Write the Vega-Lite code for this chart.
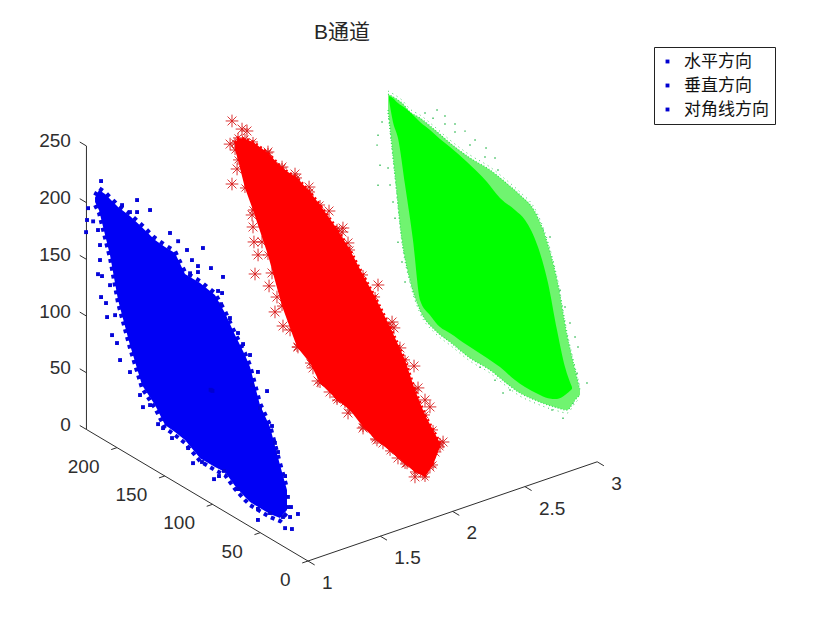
{
"$schema":"https://vega.github.io/schema/vega-lite/v6.json",
"width":840,"height":630,"padding":0,"autosize":{"type":"none"},
"background":"white",
"title":{"text":"B通道","anchor":"start","frame":"group","dx":314,"dy":43,"offset":0,"font":"Liberation Sans, Noto Sans CJK SC","fontSize":21,"fontWeight":"normal","color":"#262626"},
"config":{"view":{"stroke":null}},
"datasets":{
"axisLines":[
{"x1":1,"y1":0,"z1":0,"x2":3,"y2":0,"z2":0},
{"x1":1,"y1":0,"z1":0,"x2":1,"y2":232,"z2":0},
{"x1":1,"y1":232,"z1":0,"x2":1,"y2":232,"z2":250},
{"x1":1,"y1":0,"z1":0,"x2":1,"y2":-7,"z2":0},
{"x1":1.5,"y1":0,"z1":0,"x2":1.5,"y2":-7,"z2":0},
{"x1":2,"y1":0,"z1":0,"x2":2,"y2":-7,"z2":0},
{"x1":2.5,"y1":0,"z1":0,"x2":2.5,"y2":-7,"z2":0},
{"x1":3,"y1":0,"z1":0,"x2":3,"y2":-7,"z2":0},
{"x1":1,"y1":0,"z1":0,"x2":0.96,"y2":0,"z2":0},
{"x1":1,"y1":50,"z1":0,"x2":0.96,"y2":50,"z2":0},
{"x1":1,"y1":100,"z1":0,"x2":0.96,"y2":100,"z2":0},
{"x1":1,"y1":150,"z1":0,"x2":0.96,"y2":150,"z2":0},
{"x1":1,"y1":200,"z1":0,"x2":0.96,"y2":200,"z2":0},
{"x1":1,"y1":232,"z1":0,"x2":1,"y2":239,"z2":0},
{"x1":1,"y1":232,"z1":50,"x2":1,"y2":239,"z2":50},
{"x1":1,"y1":232,"z1":100,"x2":1,"y2":239,"z2":100},
{"x1":1,"y1":232,"z1":150,"x2":1,"y2":239,"z2":150},
{"x1":1,"y1":232,"z1":200,"x2":1,"y2":239,"z2":200},
{"x1":1,"y1":232,"z1":250,"x2":1,"y2":239,"z2":250}
],
"xTicks":[{"x":1,"y":0,"z":0,"t":"1"},{"x":1.5,"y":0,"z":0,"t":"1.5"},{"x":2,"y":0,"z":0,"t":"2"},{"x":2.5,"y":0,"z":0,"t":"2.5"},{"x":3,"y":0,"z":0,"t":"3"}],
"yTicks":[{"x":1,"y":0,"z":0,"t":"0"},{"x":1,"y":50,"z":0,"t":"50"},{"x":1,"y":100,"z":0,"t":"100"},{"x":1,"y":150,"z":0,"t":"150"},{"x":1,"y":200,"z":0,"t":"200"}],
"zTicks":[{"x":1,"y":232,"z":0,"t":"0"},{"x":1,"y":232,"z":50,"t":"50"},{"x":1,"y":232,"z":100,"t":"100"},{"x":1,"y":232,"z":150,"t":"150"},{"x":1,"y":232,"z":200,"t":"200"},{"x":1,"y":232,"z":250,"t":"250"}],
"legendRows":[{"x":1,"y":100,"z":100,"方向":"水平方向"},{"x":1,"y":101,"z":100,"方向":"垂直方向"},{"x":1,"y":102,"z":100,"方向":"对角线方向"}],
"blueBand":[
{"x":1,"y":223,"lo":205,"hi":209},{"x":1,"y":218.8,"lo":200,"hi":217.7},{"x":1,"y":212.5,"lo":181.2,"hi":217.3},{"x":1,"y":207.3,"lo":166,"hi":215.5},{"x":1,"y":198.9,"lo":130.6,"hi":212.7},{"x":1,"y":186.4,"lo":97.2,"hi":211},{"x":1,"y":173.8,"lo":68.2,"hi":207.5},{"x":1,"y":160.2,"lo":57.4,"hi":203},{"x":1,"y":149.7,"lo":45,"hi":202},{"x":1,"y":139.3,"lo":44,"hi":202},{"x":1,"y":128.8,"lo":42.2,"hi":188.7},{"x":1,"y":113,"lo":34.2,"hi":188.6},{"x":1,"y":97.4,"lo":34.1,"hi":185.8},{"x":1,"y":86.9,"lo":35,"hi":175.2},{"x":1,"y":76.4,"lo":27.9,"hi":161},{"x":1,"y":66,"lo":23.4,"hi":148.6},{"x":1,"y":60.7,"lo":21.6,"hi":140.7},{"x":1,"y":50.3,"lo":21.5,"hi":112.4},{"x":1,"y":39.8,"lo":21.5,"hi":98.3},{"x":1,"y":29.3,"lo":23.2,"hi":69.9},{"x":1,"y":22,"lo":34,"hi":51.6}
],
"bluePts":[
{"x":1,"y":216.7,"z":226.7},{"x":1,"y":230.3,"z":196},{"x":1,"y":231.4,"z":185},{"x":1,"y":225,"z":187},{"x":1,"y":232.4,"z":173.8},{"x":1,"y":194.7,"z":216.5},{"x":1,"y":179,"z":228.8},{"x":1,"y":165.4,"z":226.8},{"x":1,"y":179,"z":218.2},{"x":1,"y":186.4,"z":214.5},{"x":1,"y":144.5,"z":217},{"x":1,"y":136,"z":214},{"x":1,"y":126.7,"z":210.9},{"x":1,"y":110,"z":221},{"x":1,"y":121.5,"z":204.6},{"x":1,"y":115.2,"z":202.5},{"x":1,"y":101.6,"z":207.5},{"x":1,"y":89,"z":206},{"x":1,"y":123.5,"z":192},{"x":1,"y":115.2,"z":197.2},{"x":1,"y":94.2,"z":191},{"x":1,"y":90,"z":191.3},{"x":1,"y":91,"z":181},{"x":1,"y":219.9,"z":181.9},{"x":1,"y":217.8,"z":169.7},{"x":1,"y":217.8,"z":156.5},{"x":1,"y":219.9,"z":143},{"x":1,"y":215.7,"z":143.4},{"x":1,"y":207.3,"z":139.6},{"x":1,"y":216.7,"z":124.4},{"x":1,"y":211.5,"z":121.7},{"x":1,"y":210.4,"z":109.9},{"x":1,"y":205.2,"z":96.6},{"x":1,"y":200,"z":92.2},{"x":1,"y":202,"z":115.8},{"x":1,"y":172.8,"z":49.3},{"x":1,"y":157,"z":42.2},{"x":1,"y":151.8,"z":41.3},{"x":1,"y":142.4,"z":37.2},{"x":1,"y":125.6,"z":36.8},{"x":1,"y":120.4,"z":26.1},{"x":1,"y":111,"z":31.8},{"x":1,"y":98.4,"z":23},{"x":1,"y":93.2,"z":28.3},{"x":1,"y":88,"z":35.4},{"x":1,"y":73.3,"z":26.8},{"x":1,"y":52.4,"z":10},{"x":1,"y":24,"z":17},{"x":1,"y":16.8,"z":19.8},{"x":1,"y":10.5,"z":36.2},{"x":1,"y":18.8,"z":29.4},{"x":1,"y":21,"z":37.1},{"x":1,"y":17.8,"z":38.7},{"x":1,"y":26.2,"z":25.7},{"x":1,"y":39.8,"z":22.4},{"x":1,"y":52.4,"z":19.7},{"x":1,"y":68,"z":157.3},{"x":1,"y":52.4,"z":140.5},{"x":1,"y":42.9,"z":128.4},{"x":1,"y":50.3,"z":109.7},{"x":1,"y":37.7,"z":100.2},{"x":1,"y":34.6,"z":86.8},{"x":1,"y":31.4,"z":80.4},{"x":1,"y":24,"z":62.9},{"x":1,"y":21,"z":46},{"x":1,"y":196.8,"z":78.8},{"x":1,"y":186.4,"z":73.4},{"x":1,"y":175.9,"z":58.4},{"x":1,"y":165.4,"z":54.8},{"x":1,"y":81.7,"z":173.4},{"x":1,"y":73.3,"z":164.4},{"x":1,"y":60.7,"z":151.3},{"x":1,"y":58.6,"z":125.9}
],
"redBand":[
{"x":2,"y":227.8,"lo":204.8,"hi":211},{"x":2,"y":224.7,"lo":197.6,"hi":217},{"x":2,"y":217.4,"lo":176.5,"hi":219.7},{"x":2,"y":209,"lo":161.3,"hi":221.3},{"x":2,"y":193.3,"lo":129.5,"hi":219.4},{"x":2,"y":178.6,"lo":91.8,"hi":213.5},{"x":2,"y":162.9,"lo":63.5,"hi":212.6},{"x":2,"y":149.3,"lo":56.2,"hi":207},{"x":2,"y":138.8,"lo":43.8,"hi":200.8},{"x":2,"y":121,"lo":37.7,"hi":188.6},{"x":2,"y":107.4,"lo":35.7,"hi":176.8},{"x":2,"y":93.8,"lo":27.5,"hi":161.6},{"x":2,"y":81.2,"lo":23.3,"hi":148.5},{"x":2,"y":65.5,"lo":20.6,"hi":129.9},{"x":2,"y":49.8,"lo":16.9,"hi":108.7},{"x":2,"y":39.4,"lo":15.1,"hi":87.4},{"x":2,"y":28.9,"lo":15.9,"hi":70.6},{"x":2,"y":20.5,"lo":30.7,"hi":61.6},{"x":2,"y":13.2,"lo":50.3,"hi":53.8}
],
"redPts":[
{"x":2,"y":231,"z":228.8},{"x":2,"y":220.5,"z":226.9},{"x":2,"y":215.3,"z":227.8},{"x":2,"y":233,"z":207.4},{"x":2,"y":231,"z":173.2},{"x":2,"y":193.3,"z":220.3},{"x":2,"y":178.6,"z":214.4},{"x":2,"y":165,"z":215},{"x":2,"y":150.3,"z":210.9},{"x":2,"y":129.4,"z":200.2},{"x":2,"y":114.8,"z":192.5},{"x":2,"y":115.8,"z":188.5},{"x":2,"y":109.5,"z":182},{"x":2,"y":225.7,"z":189.1},{"x":2,"y":210,"z":156.4},{"x":2,"y":209,"z":146.3},{"x":2,"y":208,"z":133.6},{"x":2,"y":203.7,"z":124.3},{"x":2,"y":206.9,"z":105.9},{"x":2,"y":192.2,"z":102.7},{"x":2,"y":189.1,"z":115.7},{"x":2,"y":199.6,"z":137.8},{"x":2,"y":78.1,"z":160.6},{"x":2,"y":63.4,"z":135.3},{"x":2,"y":61.4,"z":131.1},{"x":2,"y":55.1,"z":116.6},{"x":2,"y":40.4,"z":108},{"x":2,"y":36.2,"z":90.8},{"x":2,"y":23.7,"z":80.3},{"x":2,"y":28.9,"z":83.8},{"x":2,"y":10,"z":56.2},{"x":2,"y":18.4,"z":43.2},{"x":2,"y":23.7,"z":27.3},{"x":2,"y":39.4,"z":10.7},{"x":2,"y":31,"z":18.4},{"x":2,"y":47.7,"z":18.9},{"x":2,"y":57.2,"z":18.5},{"x":2,"y":79.2,"z":23.4},{"x":2,"y":72.9,"z":23.9},{"x":2,"y":93.8,"z":26.6},{"x":2,"y":109.5,"z":32},{"x":2,"y":121,"z":40.4},{"x":2,"y":128.4,"z":41.1},{"x":2,"y":141,"z":44.5},{"x":2,"y":161.9,"z":64},{"x":2,"y":177.6,"z":74.7},{"x":2,"y":186,"z":82.9},{"x":2,"y":183.9,"z":97.1},{"x":2,"y":112.7,"z":40.1},{"x":2,"y":146.2,"z":53.4},{"x":2,"y":170.2,"z":74.9}
],
"greenOuter":[
{"x":3,"y":219,"lo":200.7,"hi":214.8},{"x":3,"y":211.7,"lo":146.9,"hi":214.9},{"x":3,"y":204.4,"lo":93.3,"hi":214.1},{"x":3,"y":196,"lo":62.2,"hi":210.4},{"x":3,"y":185.5,"lo":41,"hi":210.4},{"x":3,"y":169.8,"lo":31.2,"hi":207.6},{"x":3,"y":154.1,"lo":28.5,"hi":204},{"x":3,"y":133.2,"lo":24.9,"hi":201.3},{"x":3,"y":112.3,"lo":24.8,"hi":201.2},{"x":3,"y":96.5,"lo":22,"hi":198.5},{"x":3,"y":80.8,"lo":20.2,"hi":194.8},{"x":3,"y":65.1,"lo":21.9,"hi":187.7},{"x":3,"y":51.5,"lo":24.3,"hi":165.4},{"x":3,"y":41,"lo":26.9,"hi":135.4},{"x":3,"y":31.6,"lo":29.8,"hi":96},{"x":3,"y":23.2,"lo":42.9,"hi":69.3},{"x":3,"y":18,"lo":49.8,"hi":54.2}
],
"greenCore":[
{"x":3,"y":218,"lo":210,"hi":213.5},{"x":3,"y":213.8,"lo":192.6,"hi":213.8},{"x":3,"y":208.6,"lo":181.2,"hi":212},{"x":3,"y":201.2,"lo":143.4,"hi":211.3},{"x":3,"y":192.9,"lo":99,"hi":209.3},{"x":3,"y":185.5,"lo":49.8,"hi":206.8},{"x":3,"y":175,"lo":41.8,"hi":205},{"x":3,"y":164.6,"lo":36.5,"hi":202.3},{"x":3,"y":154.1,"lo":36.4,"hi":200.5},{"x":3,"y":136.3,"lo":34.8,"hi":196.2},{"x":3,"y":115.4,"lo":33.8,"hi":189},{"x":3,"y":101.8,"lo":32.6,"hi":181.7},{"x":3,"y":86.1,"lo":29,"hi":179},{"x":3,"y":75.6,"lo":28.1,"hi":175.4},{"x":3,"y":62,"lo":28.8,"hi":158.4},{"x":3,"y":51.5,"lo":30.4,"hi":131.9},{"x":3,"y":42.1,"lo":34.3,"hi":95.2},{"x":3,"y":33.7,"lo":42,"hi":66.7},{"x":3,"y":26.4,"lo":51,"hi":52.7}
],
"greenPts":[
{"x":3,"y":167.7,"z":226.3},{"x":3,"y":159.4,"z":225.2},{"x":3,"y":148.9,"z":223.4},{"x":3,"y":138.4,"z":222.4},{"x":3,"y":127.9,"z":219.8},{"x":3,"y":116.4,"z":218.5},{"x":3,"y":107,"z":214.3},{"x":3,"y":180.3,"z":217.4},{"x":3,"y":171.9,"z":217.1},{"x":3,"y":159.4,"z":218.1},{"x":3,"y":148.9,"z":216.4},{"x":3,"y":133.2,"z":212.7},{"x":3,"y":117.5,"z":210},{"x":3,"y":103.9,"z":205.3},{"x":3,"y":225.3,"z":186.9},{"x":3,"y":229.5,"z":173.3},{"x":3,"y":230.5,"z":164},{"x":3,"y":227.4,"z":147.9},{"x":3,"y":229.5,"z":129.2},{"x":3,"y":219,"z":149.5},{"x":3,"y":216.9,"z":135.6},{"x":3,"y":213.8,"z":122.1},{"x":3,"y":211.7,"z":109},{"x":3,"y":208.6,"z":89.4},{"x":3,"y":204.4,"z":73.9},{"x":3,"y":201.2,"z":57.9},{"x":3,"y":49.4,"z":173.5},{"x":3,"y":46.3,"z":139.8},{"x":3,"y":38.9,"z":131.9},{"x":3,"y":33.7,"z":119.6},{"x":3,"y":28.5,"z":108.1},{"x":3,"y":23.2,"z":98.4},{"x":3,"y":20.1,"z":91.1},{"x":3,"y":21.1,"z":67.6},{"x":3,"y":10.7,"z":64.1},{"x":3,"y":20.1,"z":53.2},{"x":3,"y":25.3,"z":39.2},{"x":3,"y":35.8,"z":20.6},{"x":3,"y":47.3,"z":22},{"x":3,"y":56.7,"z":176},{"x":3,"y":62,"z":179.6},{"x":3,"y":98.6,"z":11.3},{"x":3,"y":107,"z":18.5},{"x":3,"y":122.7,"z":22.1},{"x":3,"y":133.2,"z":25.8},{"x":3,"y":143.6,"z":28.4},{"x":3,"y":91.3,"z":17.6}
]
},
"encoding":{
"x":{"field":"sx","type":"quantitative","axis":null,"scale":{"domain":[0,840],"nice":false,"zero":false}},
"y":{"field":"sy","type":"quantitative","axis":null,"scale":{"domain":[630,0],"nice":false,"zero":false}}
},
"layer":[
{"data":{"name":"axisLines"},
"transform":[
{"calculate":"308+(datum.x1-1)*144.6-0.955*datum.y1","as":"sx"},
{"calculate":"561-(datum.x1-1)*49.6-0.567*datum.y1-1.134*datum.z1","as":"sy"},
{"calculate":"308+(datum.x2-1)*144.6-0.955*datum.y2","as":"ex"},
{"calculate":"561-(datum.x2-1)*49.6-0.567*datum.y2-1.134*datum.z2","as":"ey"}],
"mark":{"type":"rule","color":"#2e2e2e","strokeWidth":1},
"encoding":{"x2":{"field":"ex"},"y2":{"field":"ey"}}},
{"data":{"name":"xTicks"},
"transform":[{"calculate":"308+(datum.x-1)*144.6-0.955*datum.y","as":"sx"},{"calculate":"561-(datum.x-1)*49.6-0.567*datum.y-1.134*datum.z","as":"sy"}],
"mark":{"type":"text","font":"Liberation Sans","fontSize":19,"color":"#2e2e2e","align":"left","baseline":"middle","dx":14,"dy":22},
"encoding":{"text":{"field":"t"}}},
{"data":{"name":"yTicks"},
"transform":[{"calculate":"308+(datum.x-1)*144.6-0.955*datum.y","as":"sx"},{"calculate":"561-(datum.x-1)*49.6-0.567*datum.y-1.134*datum.z","as":"sy"}],
"mark":{"type":"text","font":"Liberation Sans","fontSize":19,"color":"#2e2e2e","align":"right","baseline":"middle","dx":-17.5,"dy":19},
"encoding":{"text":{"field":"t"}}},
{"data":{"name":"zTicks"},
"transform":[{"calculate":"308+(datum.x-1)*144.6-0.955*datum.y","as":"sx"},{"calculate":"561-(datum.x-1)*49.6-0.567*datum.y-1.134*datum.z","as":"sy"}],
"mark":{"type":"text","font":"Liberation Sans","fontSize":19,"color":"#2e2e2e","align":"right","baseline":"middle","dx":-15.5,"dy":-4.5},
"encoding":{"text":{"field":"t"}}},
{"data":{"name":"blueBand"},
"transform":[{"calculate":"308+(datum.x-1)*144.6-0.955*datum.y","as":"sx"},{"calculate":"561-(datum.x-1)*49.6-0.567*datum.y-1.134*datum.hi","as":"sy"}],
"mark":{"type":"line","color":"#0505e0","strokeWidth":4,"strokeDash":[4,5],"yOffset":-2}},
{"data":{"name":"blueBand"},
"transform":[{"calculate":"308+(datum.x-1)*144.6-0.955*datum.y","as":"sx"},{"calculate":"561-(datum.x-1)*49.6-0.567*datum.y-1.134*datum.lo","as":"sy"}],
"mark":{"type":"line","color":"#0505e0","strokeWidth":4,"strokeDash":[4,4],"yOffset":3}},
{"data":{"name":"blueBand"},
"transform":[{"calculate":"308+(datum.x-1)*144.6-0.955*datum.y","as":"sx"},{"calculate":"561-(datum.x-1)*49.6-0.567*datum.y-1.134*datum.hi","as":"sy"},{"calculate":"561-(datum.x-1)*49.6-0.567*datum.y-1.134*datum.lo","as":"sy2"}],
"mark":{"type":"area","color":"#0000f5","opacity":1},
"encoding":{"y2":{"field":"sy2"}}},
{"data":{"name":"bluePts"},
"transform":[{"calculate":"308+(datum.x-1)*144.6-0.955*datum.y","as":"sx"},{"calculate":"561-(datum.x-1)*49.6-0.567*datum.y-1.134*datum.z","as":"sy"}],
"mark":{"type":"point","shape":"square","filled":true,"size":15,"color":"#0505d8","opacity":1}},
{"data":{"name":"legendRows"},
"transform":[{"calculate":"308+(datum.x-1)*144.6-0.955*datum.y","as":"sx"},{"calculate":"561-(datum.x-1)*49.6-0.567*datum.y-1.134*datum.z","as":"sy"}],
"mark":{"type":"point","shape":"square","filled":true,"size":15,"opacity":1},
"encoding":{"color":{"field":"方向","type":"nominal","scale":{"domain":["水平方向","垂直方向","对角线方向"],"range":["#0000d0","#0000d0","#0000d0"]},
"legend":{"title":null,"orient":"none","legendX":654,"legendY":47,"padding":6,"symbolType":"square","symbolSize":15,"symbolOpacity":1,"labelFont":"Noto Sans CJK SC","labelFontSize":17,"labelColor":"#111111","labelOffset":8,"rowPadding":6,"labelLimit":120,"strokeColor":"#222222","fillColor":"white","symbolOffset":-1}}}},
{"data":{"name":"redPts"},
"transform":[{"calculate":"308+(datum.x-1)*144.6-0.955*datum.y","as":"sx"},{"calculate":"561-(datum.x-1)*49.6-0.567*datum.y-1.134*datum.z","as":"sy"}],
"mark":{"type":"point","shape":"M-1,0L1,0M0,-1L0,1M-0.7,-0.7L0.7,0.7M-0.7,0.7L0.7,-0.7","filled":false,"size":160,"stroke":"#d81c1c","strokeWidth":0.9,"opacity":1}},
{"data":{"name":"redBand"},
"transform":[{"calculate":"308+(datum.x-1)*144.6-0.955*datum.y","as":"sx"},{"calculate":"561-(datum.x-1)*49.6-0.567*datum.y-1.134*datum.hi","as":"sy"}],
"mark":{"type":"point","shape":"M-1,0L1,0M0,-1L0,1M-0.7,-0.7L0.7,0.7M-0.7,0.7L0.7,-0.7","filled":false,"size":100,"stroke":"#d81c1c","strokeWidth":0.9,"opacity":1}},
{"data":{"name":"redBand"},
"transform":[{"calculate":"308+(datum.x-1)*144.6-0.955*datum.y","as":"sx"},{"calculate":"561-(datum.x-1)*49.6-0.567*datum.y-1.134*datum.lo","as":"sy"}],
"mark":{"type":"point","shape":"M-1,0L1,0M0,-1L0,1M-0.7,-0.7L0.7,0.7M-0.7,0.7L0.7,-0.7","filled":false,"size":100,"stroke":"#d81c1c","strokeWidth":0.9,"opacity":1}},
{"data":{"name":"redBand"},
"transform":[{"calculate":"308+(datum.x-1)*144.6-0.955*datum.y","as":"sx"},{"calculate":"561-(datum.x-1)*49.6-0.567*datum.y-1.134*datum.hi","as":"sy"}],
"mark":{"type":"line","color":"#ff0000","strokeWidth":3,"strokeDash":[2,3]}},
{"data":{"name":"redBand"},
"transform":[{"calculate":"308+(datum.x-1)*144.6-0.955*datum.y","as":"sx"},{"calculate":"561-(datum.x-1)*49.6-0.567*datum.y-1.134*datum.hi","as":"sy"},{"calculate":"561-(datum.x-1)*49.6-0.567*datum.y-1.134*datum.lo","as":"sy2"}],
"mark":{"type":"area","color":"#ff0000","opacity":1},
"encoding":{"y2":{"field":"sy2"}}},
{"data":{"name":"greenPts"},
"transform":[{"calculate":"308+(datum.x-1)*144.6-0.955*datum.y","as":"sx"},{"calculate":"561-(datum.x-1)*49.6-0.567*datum.y-1.134*datum.z","as":"sy"}],
"mark":{"type":"point","shape":"square","filled":true,"size":2.2,"color":"#3fbf5f","opacity":1}},
{"data":{"name":"greenOuter"},
"transform":[{"calculate":"308+(datum.x-1)*144.6-0.955*datum.y","as":"sx"},{"calculate":"561-(datum.x-1)*49.6-0.567*datum.y-1.134*datum.hi","as":"sy"},{"calculate":"561-(datum.x-1)*49.6-0.567*datum.y-1.134*datum.lo","as":"sy2"}],
"mark":{"type":"area","color":"#70f470","opacity":1,"interpolate":"monotone"},
"encoding":{"y2":{"field":"sy2"}}},
{"data":{"name":"greenOuter"},
"transform":[{"calculate":"308+(datum.x-1)*144.6-0.955*datum.y","as":"sx"},{"calculate":"561-(datum.x-1)*49.6-0.567*datum.y-1.134*datum.hi","as":"sy"}],
"mark":{"type":"line","color":"#3fcf5f","strokeWidth":1,"strokeDash":[1,4],"interpolate":"monotone","yOffset":-3}},
{"data":{"name":"greenOuter"},
"transform":[{"calculate":"308+(datum.x-1)*144.6-0.955*datum.y","as":"sx"},{"calculate":"561-(datum.x-1)*49.6-0.567*datum.y-1.134*datum.hi","as":"sy"}],
"mark":{"type":"line","color":"#30e050","strokeWidth":1.2,"strokeDash":[1,2],"interpolate":"monotone"}},
{"data":{"name":"greenOuter"},
"transform":[{"calculate":"308+(datum.x-1)*144.6-0.955*datum.y","as":"sx"},{"calculate":"561-(datum.x-1)*49.6-0.567*datum.y-1.134*datum.lo","as":"sy"}],
"mark":{"type":"line","color":"#3fcf5f","strokeWidth":1,"strokeDash":[1,4],"interpolate":"monotone","yOffset":3}},
{"data":{"name":"greenOuter"},
"transform":[{"calculate":"308+(datum.x-1)*144.6-0.955*datum.y","as":"sx"},{"calculate":"561-(datum.x-1)*49.6-0.567*datum.y-1.134*datum.lo","as":"sy"}],
"mark":{"type":"line","color":"#30e050","strokeWidth":1.2,"strokeDash":[1,2],"interpolate":"monotone"}},
{"data":{"name":"greenCore"},
"transform":[{"calculate":"308+(datum.x-1)*144.6-0.955*datum.y","as":"sx"},{"calculate":"561-(datum.x-1)*49.6-0.567*datum.y-1.134*datum.hi","as":"sy"},{"calculate":"561-(datum.x-1)*49.6-0.567*datum.y-1.134*datum.lo","as":"sy2"}],
"mark":{"type":"area","color":"#00ff00","opacity":1,"interpolate":"monotone"},
"encoding":{"y2":{"field":"sy2"}}}
]
}
